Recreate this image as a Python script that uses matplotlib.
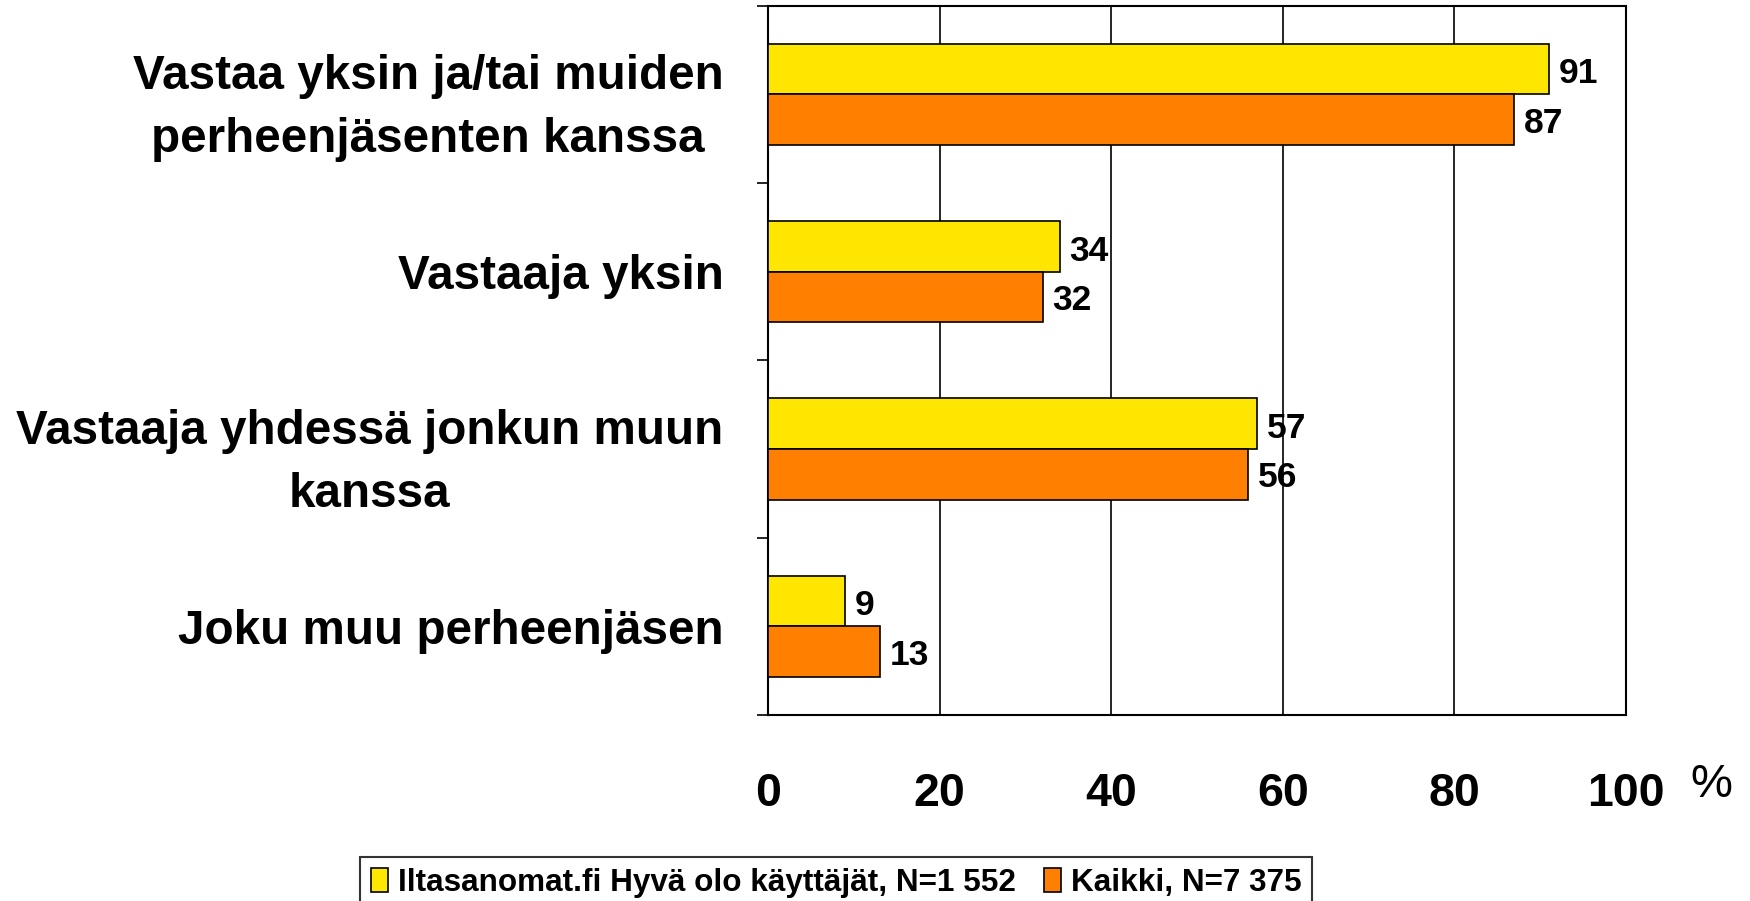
import matplotlib
matplotlib.use("Agg")
import matplotlib.pyplot as plt
import numpy as np

categories = ["Vastaa yksin ja/tai muiden\nperheenjäsenten kanssa",
              "Vastaaja yksin",
              "Vastaaja yhdessä jonkun muun\nkanssa",
              "Joku muu perheenjäsen"]
series_names = ["Iltasanomat.fi Hyvä olo käyttäjät, N=1 552", "Kaikki, N=7 375"]
iltasanomat = [91, 34, 57, 9]
kaikki = [87, 32, 56, 13]
xticks = [0, 20, 40, 60, 80, 100]

plt.rcParams['font.family'] = ["Liberation Sans", 'DejaVu Sans']

YELLOW = "#FFE600"
ORANGE = "#FF8000"

fig = plt.figure(figsize=(17.5, 9.01), dpi=100)
ax = fig.add_axes([768/1750, 1-715/901, (1626-768)/1750, (715-5.6)/901])

y = np.arange(len(categories))
h = 0.286
ax.barh(y - h/2, iltasanomat, height=h, color=YELLOW, edgecolor="black", linewidth=1.2, zorder=3, label=series_names[0])
ax.barh(y + h/2, kaikki, height=h, color=ORANGE, edgecolor="black", linewidth=1.2, zorder=3, label=series_names[1])

for yi, v in zip(y - h/2, iltasanomat):
    ax.annotate(str(v), (v, yi), xytext=(7, -1), textcoords="offset points",
                ha="left", va="center_baseline", fontsize=25.5, fontweight="bold")
for yi, v in zip(y + h/2, kaikki):
    ax.annotate(str(v), (v, yi), xytext=(7, 0), textcoords="offset points",
                ha="left", va="center_baseline", fontsize=25.5, fontweight="bold")

ax.set_xlim(0, 100)
ax.set_ylim(len(categories) - 0.5, -0.5)

ax.set_xticks(xticks)
ax.set_xticklabels([str(t) for t in xticks], fontsize=33.5, fontweight="bold")
ax.tick_params(axis="x", length=0, pad=41)
ax.xaxis.grid(True, color="black", linewidth=1.2, zorder=0)

ax.set_yticks(np.arange(len(categories) + 1) - 0.5)
ax.set_yticklabels([])
ax.tick_params(axis="y", which="major", length=8, width=1.2, direction="out")
ax.set_yticks(y, minor=True)
ax.set_yticklabels(categories, minor=True, fontsize=34.3, fontweight="bold",
                   multialignment="center", linespacing=1.52)
ax.tick_params(axis="y", which="minor", length=0, pad=32)

for s in ax.spines.values():
    s.set_linewidth(1.5)
    s.set_color("black")

fig.text(1711/1750, 1-785/901, "%", fontsize=34, ha="center", va="center")

leg = fig.legend(loc="upper center", bbox_to_anchor=(836/1750, 1-857/901),
                 ncol=2, frameon=True, fancybox=False, edgecolor="black",
                 prop={"size": 22.7, "weight": "bold"}, handlelength=0.55, handleheight=0.75,
                 handletextpad=0.3, columnspacing=0.9, borderpad=0.35, borderaxespad=0)
leg.get_frame().set_linewidth(1.5)

fig.savefig("out.png", dpi=100, facecolor="white")
